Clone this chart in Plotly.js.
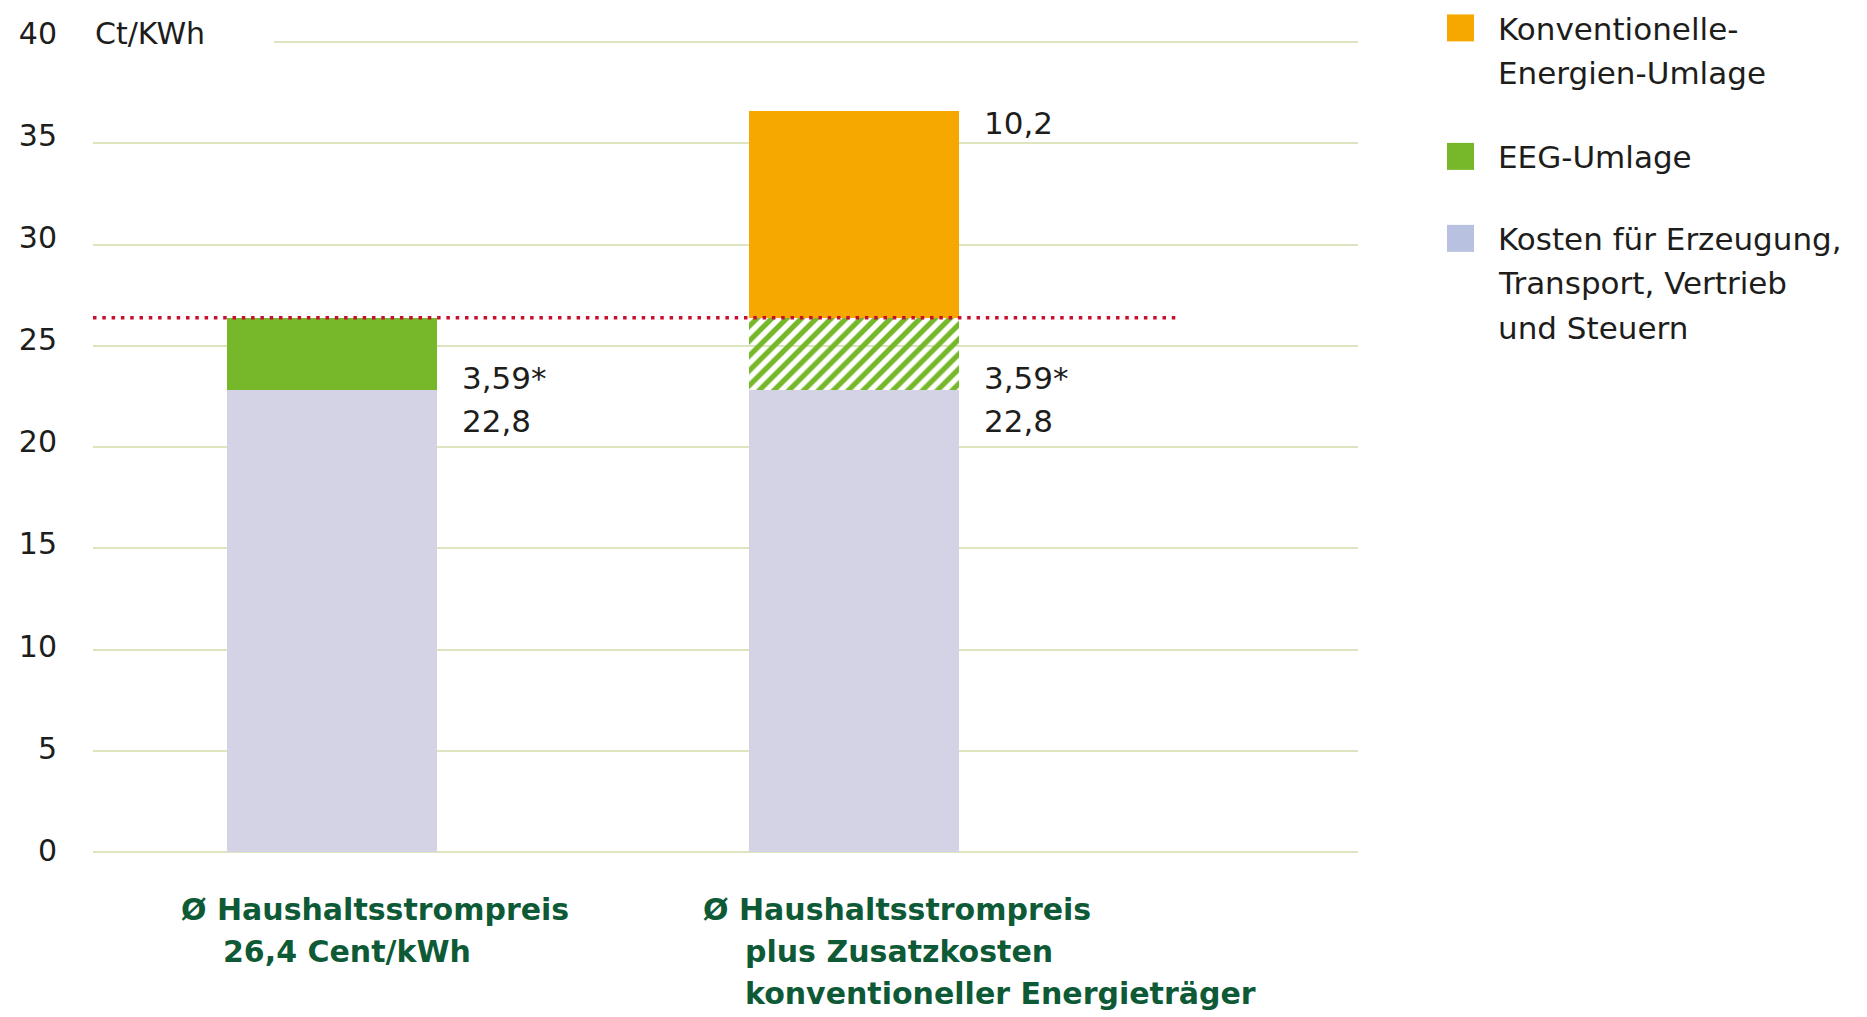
<!DOCTYPE html>
<html>
<head>
<meta charset="utf-8">
<script src="https://cdn.plot.ly/plotly-3.0.1.min.js"></script>
<style>
  html, body { margin: 0; padding: 0; background: #ffffff; }
  #chart { width: 1867px; height: 1017px; }
</style>
</head>
<body>
<div id="chart"></div>
<script>
// ---------------- DATA ----------------
const categories = ["Haushaltsstrompreis", "Haushaltsstrompreis plus Zusatzkosten"];
const categoryLabelLines = [
  ["Ø Haushaltsstrompreis", "26,4 Cent/kWh"],
  ["Ø Haushaltsstrompreis", "plus Zusatzkosten", "konventioneller Energieträger"]
];
const kostenValues = [22.8, 22.8];      // Kosten für Erzeugung, Transport, Vertrieb und Steuern
const eegValues = [3.59, 3.59];         // EEG-Umlage
const konvValues = [0, 10.2];           // Konventionelle-Energien-Umlage
const kostenLabels = ["22,8", "22,8"];
const eegLabels = ["3,59*", "3,59*"];
const konvLabels = ["", "10,2"];
const yTickValues = [0, 5, 10, 15, 20, 25, 30, 35, 40];
const yTickLabels = ["0", "5", "10", "15", "20", "25", "30", "35", "40"];
const yUnitLabel = "Ct/KWh";
const legendNames = [
  ["Konventionelle-", "Energien-Umlage"],
  ["EEG-Umlage"],
  ["Kosten für Erzeugung,", "Transport, Vertrieb", "und Steuern"]
];

// ---------------- STYLE ----------------
const C_ORANGE = "#F6A800";
const C_GREEN = "#76B82A";
const C_LAV = "#D4D3E6";
const C_LAV_LEGEND = "#B9C1E1";
const C_HATCH_BG = "#CFD1E0";
const C_GRID = "#DCE5C0";
const C_TEXT = "#1d1d1b";
const C_CAT = "#0E5A36";
const C_RED = "#C8102E";
const legendColors = [C_ORANGE, C_GREEN, C_LAV_LEGEND];
const FONT = "DejaVu Sans, Liberation Sans, sans-serif";

const W = 1867, H = 1017;
const M = { l: 93, r: 509, t: 31.6, b: 165.3 };
const plotW = W - M.l - M.r;
const plotH = H - M.t - M.b;
const xp = px => (px - M.l) / plotW;
const yp = py => (H - M.b - py) / plotH;

const eegTotal = kostenValues[0] + eegValues[0];

// ---------------- TRACES ----------------
const traces = [
  {
    type: "bar", x: categories, y: kostenValues, name: "Kosten",
    marker: { color: C_LAV, line: { width: 0 } }, showlegend: false, hoverinfo: "skip"
  },
  {
    type: "bar", x: categories, y: eegValues, name: "EEG-Umlage",
    marker: {
      color: [C_GREEN, C_GREEN], line: { width: 0 },
      pattern: { shape: ["", "/"], bgcolor: C_HATCH_BG, fgcolor: C_GREEN, size: 10.5, solidity: 0.5, fillmode: "replace" }
    },
    showlegend: false, hoverinfo: "skip"
  },
  {
    type: "bar", x: categories, y: konvValues, name: "Konventionelle-Energien-Umlage",
    marker: { color: C_ORANGE, line: { width: 0 } }, showlegend: false, hoverinfo: "skip"
  },
  {
    type: "scatter", x: [], y: [], yaxis: "y2", showlegend: false, hoverinfo: "skip"
  }
];

// ---------------- ANNOTATIONS ----------------
const annotations = [];
const valFont = { family: FONT, size: 31, color: C_TEXT };

categories.forEach((c, i) => {
  annotations.push({ x: c, xref: "x", y: kostenValues[i], yref: "y", text: kostenLabels[i],
    showarrow: false, xanchor: "left", yanchor: "middle", xshift: 128, yshift: -31, font: valFont });
  annotations.push({ x: c, xref: "x", y: kostenValues[i], yref: "y", text: eegLabels[i],
    showarrow: false, xanchor: "left", yanchor: "middle", xshift: 128, yshift: 12, font: valFont });
  if (konvValues[i] > 0) {
    annotations.push({ x: c, xref: "x", y: kostenValues[i] + eegValues[i] + konvValues[i], yref: "y",
      text: konvLabels[i], showarrow: false, xanchor: "left", yanchor: "middle",
      xshift: 128, yshift: -12, font: valFont });
  }
  categoryLabelLines[i].forEach((line, j) => {
    annotations.push({ x: c, xref: "x", y: 0, yref: "paper", text: line, showarrow: false,
      xanchor: "left", yanchor: "middle", xshift: j === 0 ? -153 : -111,
      yshift: (H - M.b) - (909 + j * 42),
      font: { family: FONT, size: 30, color: C_CAT, weight: "bold" } });
  });
});

// unit label
annotations.push({ x: 0, xref: "paper", y: 40, yref: "y2", text: yUnitLabel, showarrow: false,
  xanchor: "left", yanchor: "middle", xshift: 0, font: { family: FONT, size: 30, color: C_TEXT } });

// legend
const legendSquareCenters = [27.5, 156, 238];
const legendLineCenters = [[28.5, 73], [156.5], [239, 283, 328]];
const shapes = [];
legendNames.forEach((lines, i) => {
  const cy = legendSquareCenters[i];
  shapes.push({ type: "rect", xref: "paper", yref: "paper",
    x0: xp(1447), x1: xp(1474), y0: yp(cy + 13.5), y1: yp(cy - 13.5),
    fillcolor: legendColors[i], line: { width: 0 } });
  lines.forEach((t, j) => {
    annotations.push({ x: xp(1496), xref: "paper", y: yp(legendLineCenters[i][j]), yref: "paper",
      text: t, showarrow: false, xanchor: "left", yanchor: "middle",
      font: { family: FONT, size: 31, color: C_TEXT } });
  });
});

// top gridline (partial, after the unit label)
shapes.push({ type: "line", xref: "paper", yref: "y", x0: xp(274), x1: 1, y0: 40, y1: 40,
  line: { color: C_GRID, width: 2 }, layer: "below" });
// average household price dotted line
shapes.push({ type: "line", xref: "paper", yref: "y", x0: 0, x1: xp(1179), y0: eegTotal, y1: eegTotal,
  line: { color: C_RED, width: 3.5, dash: "3.5px,5.8px" }, layer: "above" });

const layout = {
  width: W, height: H,
  margin: { l: M.l, r: M.r, t: M.t, b: M.b, pad: 0 },
  paper_bgcolor: "#ffffff", plot_bgcolor: "#ffffff",
  font: { family: FONT, size: 30, color: C_TEXT },
  barmode: "stack",
  bargap: 0.598,
  showlegend: false,
  xaxis: {
    type: "category", categoryarray: categories, range: [-0.458, 1.966],
    showticklabels: false, showgrid: false, zeroline: false, showline: false, ticks: "",
    fixedrange: true
  },
  yaxis: {
    range: [0, 40.5], tickvals: [0, 5, 10, 15, 20, 25, 30, 35],
    showticklabels: false, showgrid: true, gridcolor: C_GRID, gridwidth: 2,
    zeroline: true, zerolinecolor: C_GRID, zerolinewidth: 2, showline: false, ticks: "",
    fixedrange: true
  },
  yaxis2: {
    overlaying: "y", anchor: "x", side: "left",
    range: [-0.083, 40.07], tickvals: yTickValues, ticktext: yTickLabels,
    showgrid: false, zeroline: false, showline: false, ticks: "",
    ticklabelstandoff: 35,
    tickfont: { family: FONT, size: 30, color: C_TEXT },
    fixedrange: true
  },
  shapes: shapes,
  annotations: annotations
};

Plotly.newPlot("chart", traces, layout, { displayModeBar: false, staticPlot: true });
</script>
</body>
</html>
